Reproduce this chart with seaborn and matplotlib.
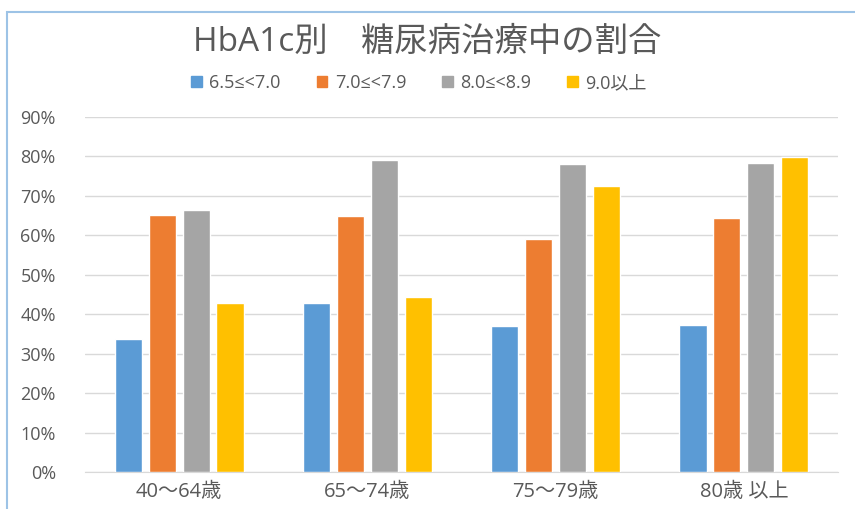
import numpy as np
import pandas as pd
import seaborn as sns
import matplotlib.pyplot as plt
from matplotlib.patches import Rectangle
from matplotlib.ticker import PercentFormatter

age_groups = ["40～64歳", "65～74歳", "75～79歳", "80歳 以上"]
hba1c_levels = ["6.5≤<7.0", "7.0≤<7.9", "8.0≤<8.9", "9.0以上"]
vals_65_70 = [33.7, 42.8, 37.0, 37.3]
vals_70_79 = [65.2, 64.9, 59.0, 64.4]
vals_80_89 = [66.4, 79.1, 78.0, 78.3]
vals_90_up = [42.8, 44.4, 72.4, 79.8]
colors = ["#5b9bd5", "#ed7d31", "#a5a5a5", "#ffc000"]

rows = []
for lvl, vals in zip(hba1c_levels, [vals_65_70, vals_70_79, vals_80_89, vals_90_up]):
    for grp, v in zip(age_groups, vals):
        rows.append({"age": grp, "level": lvl, "pct": v})
df = pd.DataFrame(rows)

sns.set_style("white")
plt.rcParams['font.family'] = ['Open Sans', 'Noto Sans CJK JP', 'DejaVu Sans']
txt = "#595959"

fig = plt.figure(figsize=(8.55, 5.09), dpi=100)
ax = fig.add_axes([85/855, 37/509, 753/855, 355/509])

sns.barplot(data=df, x="age", y="pct", hue="level", order=age_groups,
            hue_order=hba1c_levels, palette=colors, width=0.72, gap=0.2,
            saturation=1, ax=ax, legend=False, zorder=3)

ax.set_ylim(0, 90)
ax.set_xlim(-0.5, 3.5)
ax.set_yticks(np.arange(0, 91, 10))
ax.yaxis.set_major_formatter(PercentFormatter(decimals=0))
ax.grid(axis="y", color="#d9d9d9", linewidth=1, zorder=0)
ax.set_xlabel("")
ax.set_ylabel("")
for s in ["top", "right", "left"]:
    ax.spines[s].set_visible(False)
ax.spines["bottom"].set_color("#d9d9d9")
ax.tick_params(axis="y", labelsize=13, labelcolor=txt, length=0, pad=21)
ax.tick_params(axis="x", labelsize=14.5, labelcolor=txt, length=0, pad=7)

# title and legend
fig.text(0.5, 1 - 42/509, "HbA1c別　糖尿病治療中の割合", ha="center", va="center",
         fontsize=24, color=txt)
handles = [Rectangle((0, 0), 1, 1, color=c) for c in colors]
fig.legend(handles, hba1c_levels, loc="center", bbox_to_anchor=(0.49, 1 - 83/509),
           ncol=4, frameon=False, fontsize=13, labelcolor=txt,
           handlelength=0.6, handleheight=0.6, handletextpad=0.4, columnspacing=2.0)

# chart frame
fig.patches.append(Rectangle((7/855, -0.1), 1.1, 1 - 12/509 + 0.1, transform=fig.transFigure,
                             fill=False, edgecolor="#9dc3e6", linewidth=1.5))

fig.savefig("out.png", dpi=100)
